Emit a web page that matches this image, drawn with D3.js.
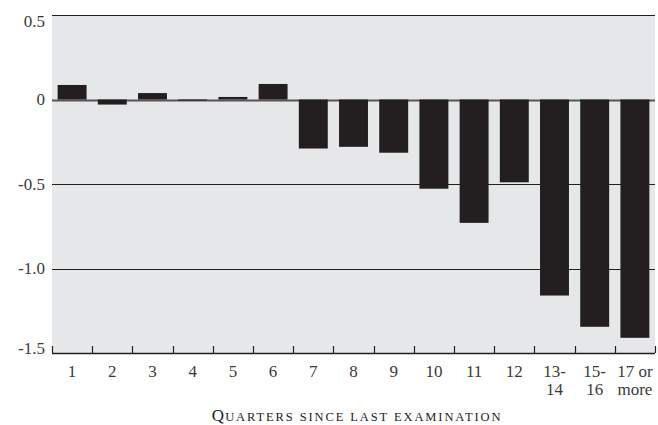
<!DOCTYPE html>
<html><head><meta charset="utf-8">
<script src="https://cdn.jsdelivr.net/npm/d3@7"></script>
<style>body{margin:0;background:#fff}svg{display:block}</style>
</head><body>
<svg id="c" width="658" height="425"></svg>
<script>
const categories = ["1","2","3","4","5","6","7","8","9","10","11","12","13-14","15-16","17 or more"];
const categoryLines = [["1"],["2"],["3"],["4"],["5"],["6"],["7"],["8"],["9"],["10"],["11"],["12"],["13-","14"],["15-","16"],["17 or","more"]];
const values = [0.086, -0.03, 0.038, -0.004, 0.015, 0.092, -0.29, -0.28, -0.315, -0.528, -0.73, -0.49, -1.16, -1.345, -1.41];
const yTicks = [0.5, 0, -0.5, -1.0, -1.5];
const yTickLabels = ["0.5", "0", "-0.5", "-1.0", "-1.5"];
const xTitleFirst = "Q";
const xTitleRest = "UARTERS SINCE LAST EXAMINATION";

const svg = d3.select("#c");
const L = 52, R = 655, T = 15, B = 353;
const x = d3.scaleBand().domain(categories).range([L, R]).paddingInner(0.28).paddingOuter(0.14);
const y = d3.scaleLinear().domain([-1.5, 0.5]).range([B, T]);
const font = "'Liberation Serif', 'DejaVu Serif', serif";
const ink = "#231f20";
const txt = "#3a3a3a";

svg.append("rect").attr("x", L).attr("y", T).attr("width", R - L).attr("height", B - T).attr("fill", "#e6e7e9");

// gridlines
svg.append("g").selectAll("line").data(yTicks.filter(d => d !== -1.5)).join("line")
  .attr("x1", L).attr("x2", R).attr("y1", d => Math.round(y(d)) + 0.5).attr("y2", d => Math.round(y(d)) + 0.5)
  .attr("stroke", d => d === 0 ? "#555" : ink).attr("stroke-width", d => d === 0 ? 2 : 1.2);

// bars
svg.append("g").selectAll("rect").data(values).join("rect")
  .attr("x", (d, i) => x(categories[i]))
  .attr("width", x.bandwidth())
  .attr("y", d => y(Math.max(0, d)))
  .attr("height", d => Math.max(1, Math.abs(y(d) - y(0))))
  .attr("fill", ink);

// x axis line and ticks at band boundaries, pointing up
const bounds = d3.range(categories.length + 1).map(i => L + i * (R - L) / categories.length);
svg.append("line").attr("x1", L).attr("x2", R).attr("y1", B + 0.5).attr("y2", B + 0.5).attr("stroke", ink).attr("stroke-width", 1.5);
svg.append("g").selectAll("line").data(bounds).join("line")
  .attr("x1", d => Math.round(d) + 0.5).attr("x2", d => Math.round(d) + 0.5)
  .attr("y1", B - 7).attr("y2", B).attr("stroke", ink).attr("stroke-width", 1.2);

// y tick labels (top one shifted below its line, bottom one above)
const n = yTicks.length;
svg.append("g").selectAll("text").data(yTicks).join("text")
  .attr("x", 45).attr("y", (d, i) => y(d) + (i === 0 ? 6 : i === n - 1 ? -5 : 0)).attr("dy", "0.35em")
  .attr("text-anchor", "end").attr("font-family", font).attr("font-size", 17).attr("fill", txt)
  .text((d, i) => yTickLabels[i]);

// x tick labels
const xl = svg.append("g").selectAll("text").data(categories).join("text")
  .attr("x", d => x(d) + x.bandwidth() / 2).attr("y", 377)
  .attr("text-anchor", "middle").attr("font-family", font).attr("font-size", 17).attr("fill", txt);
xl.each(function(d, i) {
  const t = d3.select(this);
  categoryLines[i].forEach((s, j) => {
    t.append("tspan").attr("x", x(d) + x.bandwidth() / 2).attr("dy", j === 0 ? 0 : 18).text(s);
  });
});

// x title (small caps)
const tt = svg.append("text").attr("x", 357).attr("y", 421).attr("text-anchor", "middle")
  .attr("font-family", font).attr("fill", "#222");
tt.append("tspan").attr("font-size", 17).attr("letter-spacing", 1.2).text(xTitleFirst);
tt.append("tspan").attr("font-size", 12.5).attr("letter-spacing", 1.9).text(xTitleRest);
</script>
</body></html>
